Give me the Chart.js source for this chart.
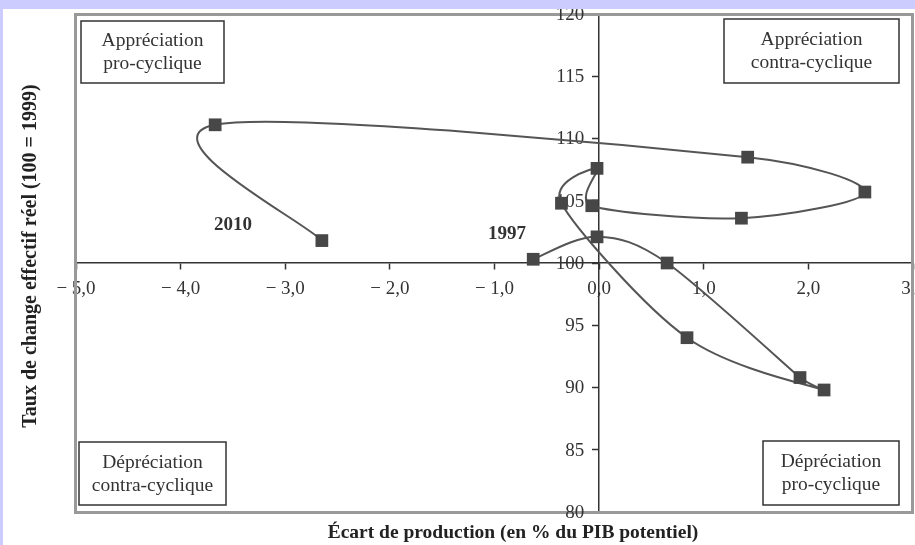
<!DOCTYPE html>
<html>
<head>
<meta charset="utf-8">
<script src="https://cdn.jsdelivr.net/npm/chart.js@4"></script>
<style>
  html, body { margin: 0; padding: 0; background: #ccccff; }
  #wrap { position: relative; width: 915px; height: 545px; }
</style>
</head>
<body>
<div id="wrap"><canvas id="chart" width="915" height="545"></canvas></div>
<script>
// Data (one point per year, 1997 -> 2010)
const years = [1997, 1998, 1999, 2000, 2001, 2002, 2003, 2004, 2005, 2006, 2007, 2008, 2009, 2010];
const outputGap = [-0.63, -0.02, 0.65, 1.92, 2.15, 0.84, -0.36, -0.02, -0.07, 1.36, 2.54, 1.42, -3.67, -2.65];
const reer = [100.3, 102.1, 100.0, 90.8, 89.8, 94.0, 104.8, 107.6, 104.6, 103.6, 105.7, 108.5, 111.1, 101.8];

const xTickLabels = ['\u2212 5,0', '\u2212 4,0', '\u2212 3,0', '\u2212 2,0', '\u2212 1,0', '0,0', '1,0', '2,0', '3,0'];
const yTickLabels = ['80', '85', '90', '95', '100', '105', '110', '115', '120'];

const quadrantLabels = [
  ['Appréciation', 'pro-cyclique'],
  ['Appréciation', 'contra-cyclique'],
  ['Dépréciation', 'contra-cyclique'],
  ['Dépréciation', 'pro-cyclique']
];
const yearLabels = ['1997', '2010'];

const xTitle = 'Écart de production (en % du PIB potentiel)';
const yTitle = 'Taux de change effectif réel (100 = 1999)';

const serif = "'Liberation Serif', 'Times New Roman', serif";
const ink = '#333';
const smoothing = 1 / 6; // Excel-like smoothed line

const points = outputGap.map((x, i) => ({ x: x, y: reer[i] }));

// replace Chart.js control points with catmull-rom ones,
// shortened when a neighbouring segment is short (no overshoot)
const smoothLine = {
  id: 'smoothLine',
  beforeDatasetDraw(chart, args) {
    const meta = args.meta;
    const line = meta.dataset;
    if (!line) return;
    line.updateControlPoints(chart.chartArea, meta.iScale.axis);
    const pts = meta.data;
    const dist = (a, b) => Math.hypot(a.x - b.x, a.y - b.y);
    pts.forEach((p, i) => {
      const prev = pts[i - 1] || p;
      const next = pts[i + 1] || p;
      let dx = (next.x - prev.x) * smoothing;
      let dy = (next.y - prev.y) * smoothing;
      const len = Math.hypot(dx, dy);
      const segs = [dist(prev, p), dist(p, next)].filter(d => d > 0);
      const maxLen = segs.length ? Math.min(...segs) / 2 : 0;
      if (len > maxLen && len > 0) {
        dx *= maxLen / len;
        dy *= maxLen / len;
      }
      p.cp1x = p.x - dx; p.cp1y = p.y - dy;
      p.cp2x = p.x + dx; p.cp2y = p.y + dy;
    });
    line._path = undefined;
  }
};

// background, frame, boxes, y tick labels and free text
const decor = {
  id: 'decor',
  beforeDraw(chart) {
    const ctx = chart.ctx;
    ctx.save();
    ctx.fillStyle = '#fff';
    ctx.fillRect(0, 0, chart.width, chart.height);
    ctx.restore();
  },
  beforeDatasetsDraw(chart) {
    const ctx = chart.ctx;
    const a = chart.chartArea;
    const ys = chart.scales.y, xs = chart.scales.x;
    ctx.save();
    // outer grey frame
    ctx.strokeStyle = '#999';
    ctx.lineWidth = 3;
    ctx.strokeRect(a.left - 0.5, a.top + 0.5, a.right - a.left, a.bottom - a.top);

    // y tick labels, left of the vertical axis
    ctx.font = '19px ' + serif;
    ctx.fillStyle = ink;
    ctx.textAlign = 'right';
    ctx.textBaseline = 'middle';
    const axisX = xs.getPixelForValue(0);
    ys.ticks.forEach((t, i) => {
      ctx.fillText(yTickLabels[i], axisX - 15, ys.getPixelForValue(t.value) + 1);
    });

    // quadrant boxes
    const boxes = [
      { x: a.left + 5, y: a.top + 7, w: 143, h: 62 },
      { x: a.right - 189, y: a.top + 5, w: 175, h: 64 },
      { x: a.left + 3, y: a.bottom - 70, w: 147, h: 63 },
      { x: a.right - 150, y: a.bottom - 71, w: 136, h: 64 }
    ];
    ctx.font = '19.5px ' + serif;
    ctx.textAlign = 'center';
    boxes.forEach((b, i) => {
      ctx.strokeStyle = '#333';
      ctx.lineWidth = 1.5;
      ctx.strokeRect(b.x, b.y, b.w, b.h);
      const cx = b.x + b.w / 2, cy = b.y + b.h / 2;
      ctx.fillText(quadrantLabels[i][0], cx, cy - 11);
      ctx.fillText(quadrantLabels[i][1], cx, cy + 12);
    });
    ctx.restore();
  },
  afterDatasetsDraw(chart) {
    const ctx = chart.ctx;
    const xs = chart.scales.x, ys = chart.scales.y;
    ctx.save();
    ctx.font = 'bold 19px ' + serif;
    ctx.fillStyle = ink;
    ctx.textAlign = 'center';
    ctx.textBaseline = 'middle';
    ctx.fillText(yearLabels[0], xs.getPixelForValue(-0.88), ys.getPixelForValue(102.3));
    ctx.fillText(yearLabels[1], xs.getPixelForValue(-3.50), ys.getPixelForValue(103.05));
    ctx.restore();
  },
  afterDraw(chart) {
    const ctx = chart.ctx;
    ctx.save();
    ctx.fillStyle = '#222';
    ctx.font = 'bold 19.5px ' + serif;
    ctx.textAlign = 'center';
    ctx.textBaseline = 'middle';
    ctx.fillText(xTitle, 513, 533);
    ctx.font = 'bold 20px ' + serif;
    ctx.textBaseline = 'alphabetic';
    ctx.translate(36, 256);
    ctx.rotate(-Math.PI / 2);
    ctx.fillText(yTitle, 0, 0);
    ctx.restore();
    // lavender page border
    ctx.save();
    ctx.fillStyle = '#ccccff';
    ctx.fillRect(0, 0, chart.width, 9);
    ctx.fillRect(0, 0, 3, chart.height);
    ctx.restore();
  }
};

new Chart(document.getElementById('chart'), {
  type: 'scatter',
  data: {
    datasets: [{
      label: 'TCER',
      data: points,
      showLine: true,
      tension: 0.4,
      borderColor: '#555',
      borderWidth: 2,
      pointStyle: 'rect',
      pointRadius: 9,
      pointHoverRadius: 9,
      pointBackgroundColor: '#474747',
      pointBorderColor: '#474747',
      pointBorderWidth: 0
    }]
  },
  options: {
    responsive: false,
    animation: false,
    devicePixelRatio: 1,
    layout: { autoPadding: false, padding: { left: 76, top: 14, right: 2, bottom: 33 } },
    plugins: {
      legend: { display: false },
      tooltip: { enabled: false }
    },
    scales: {
      x: {
        type: 'linear',
        min: -5,
        max: 3,
        position: { y: 100 },
        afterFit(s) { s.paddingLeft = 0; s.paddingRight = 0; },
        border: { color: ink, width: 1.5 },
        grid: { drawOnChartArea: false, tickLength: 6, tickColor: ink, tickWidth: 1.5 },
        ticks: {
          stepSize: 1,
          padding: 9,
          color: ink,
          font: { family: serif, size: 19 },
          maxRotation: 0,
          autoSkip: false,
          callback: (v, i) => xTickLabels[i]
        }
      },
      y: {
        type: 'linear',
        min: 80,
        max: 120,
        position: { x: 0 },
        afterFit(s) { s.paddingTop = 0; s.paddingBottom = 0; },
        border: { color: ink, width: 1.5 },
        grid: { drawOnChartArea: false, tickLength: 6, tickColor: ink, tickWidth: 1.5 },
        ticks: { display: false, stepSize: 5, autoSkip: false }
      }
    }
  },
  plugins: [smoothLine, decor]
});
</script>
</body>
</html>
